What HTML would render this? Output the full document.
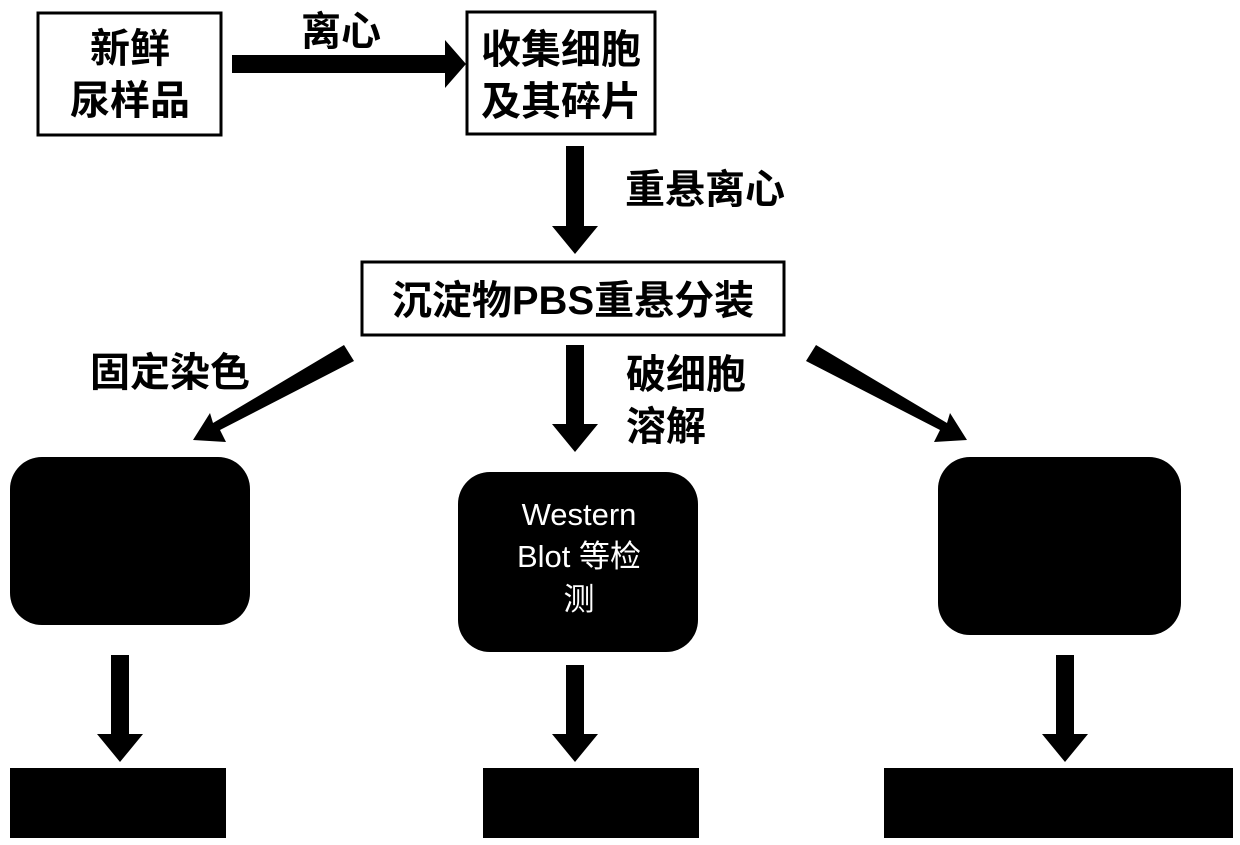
<!DOCTYPE html>
<html><head><meta charset="utf-8"><style>
html,body{margin:0;padding:0;background:#fff;}
svg{display:block}
text{font-family:"Liberation Sans","Noto Sans CJK SC",sans-serif;font-weight:bold;fill:#000}
</style></head><body>
<svg width="1240" height="845" viewBox="0 0 1240 845">
<rect x="38" y="13" width="183" height="122" fill="#fff" stroke="#000" stroke-width="3"/>
<text x="130" y="62" font-size="40" text-anchor="middle">新鲜</text>
<text x="130" y="114" font-size="40" text-anchor="middle">尿样品</text>
<rect x="467" y="12" width="188" height="122" fill="#fff" stroke="#000" stroke-width="3"/>
<text x="561" y="63" font-size="40" text-anchor="middle">收集细胞</text>
<text x="561" y="115" font-size="40" text-anchor="middle">及其碎片</text>
<polygon points="232,55 445,55 445,40 466,64 445,88 445,73 232,73" fill="#000"/>
<text x="341" y="45" font-size="40" text-anchor="middle">离心</text>
<polygon points="566,146 584,146 584,226 598,226 575,254 552,226 566,226" fill="#000"/>
<text x="705" y="203" font-size="40" text-anchor="middle">重悬离心</text>
<rect x="362" y="262" width="422" height="73" fill="#fff" stroke="#000" stroke-width="3"/>
<text x="573" y="314" font-size="40" text-anchor="middle">沉淀物PBS重悬分装</text>
<polygon points="344,345 354,361 220,430 226,442 193,440 210,413 213,423" fill="#000"/>
<polygon points="566,345 584,345 584,424 598,424 575,452 552,424 566,424" fill="#000"/>
<polygon points="816,345 806,361 940,430 934,442 967,440 950,413 947,423" fill="#000"/>
<text x="170" y="386" font-size="40" text-anchor="middle">固定染色</text>
<text x="686" y="388" font-size="40" text-anchor="middle">破细胞</text>
<text x="666" y="440" font-size="40" text-anchor="middle">溶解</text>
<rect x="10" y="457" width="240" height="168" rx="32" fill="#000"/>
<rect x="458" y="472" width="240" height="180" rx="32" fill="#000"/>
<text x="579" y="525" font-size="31" text-anchor="middle" style="fill:#fff;font-weight:normal">Western</text>
<text x="579" y="567" font-size="31" text-anchor="middle" style="fill:#fff;font-weight:normal">Blot 等检</text>
<text x="579" y="610" font-size="31" text-anchor="middle" style="fill:#fff;font-weight:normal">测</text>
<rect x="938" y="457" width="243" height="178" rx="32" fill="#000"/>
<polygon points="111,655 129,655 129,734 143,734 120,762 97,734 111,734" fill="#000"/>
<polygon points="566,665 584,665 584,734 598,734 575,762 552,734 566,734" fill="#000"/>
<polygon points="1056,655 1074,655 1074,734 1088,734 1065,762 1042,734 1056,734" fill="#000"/>
<rect x="10" y="768" width="216" height="70" fill="#000"/>
<rect x="483" y="768" width="216" height="70" fill="#000"/>
<rect x="884" y="768" width="349" height="70" fill="#000"/>
</svg>
</body></html>
